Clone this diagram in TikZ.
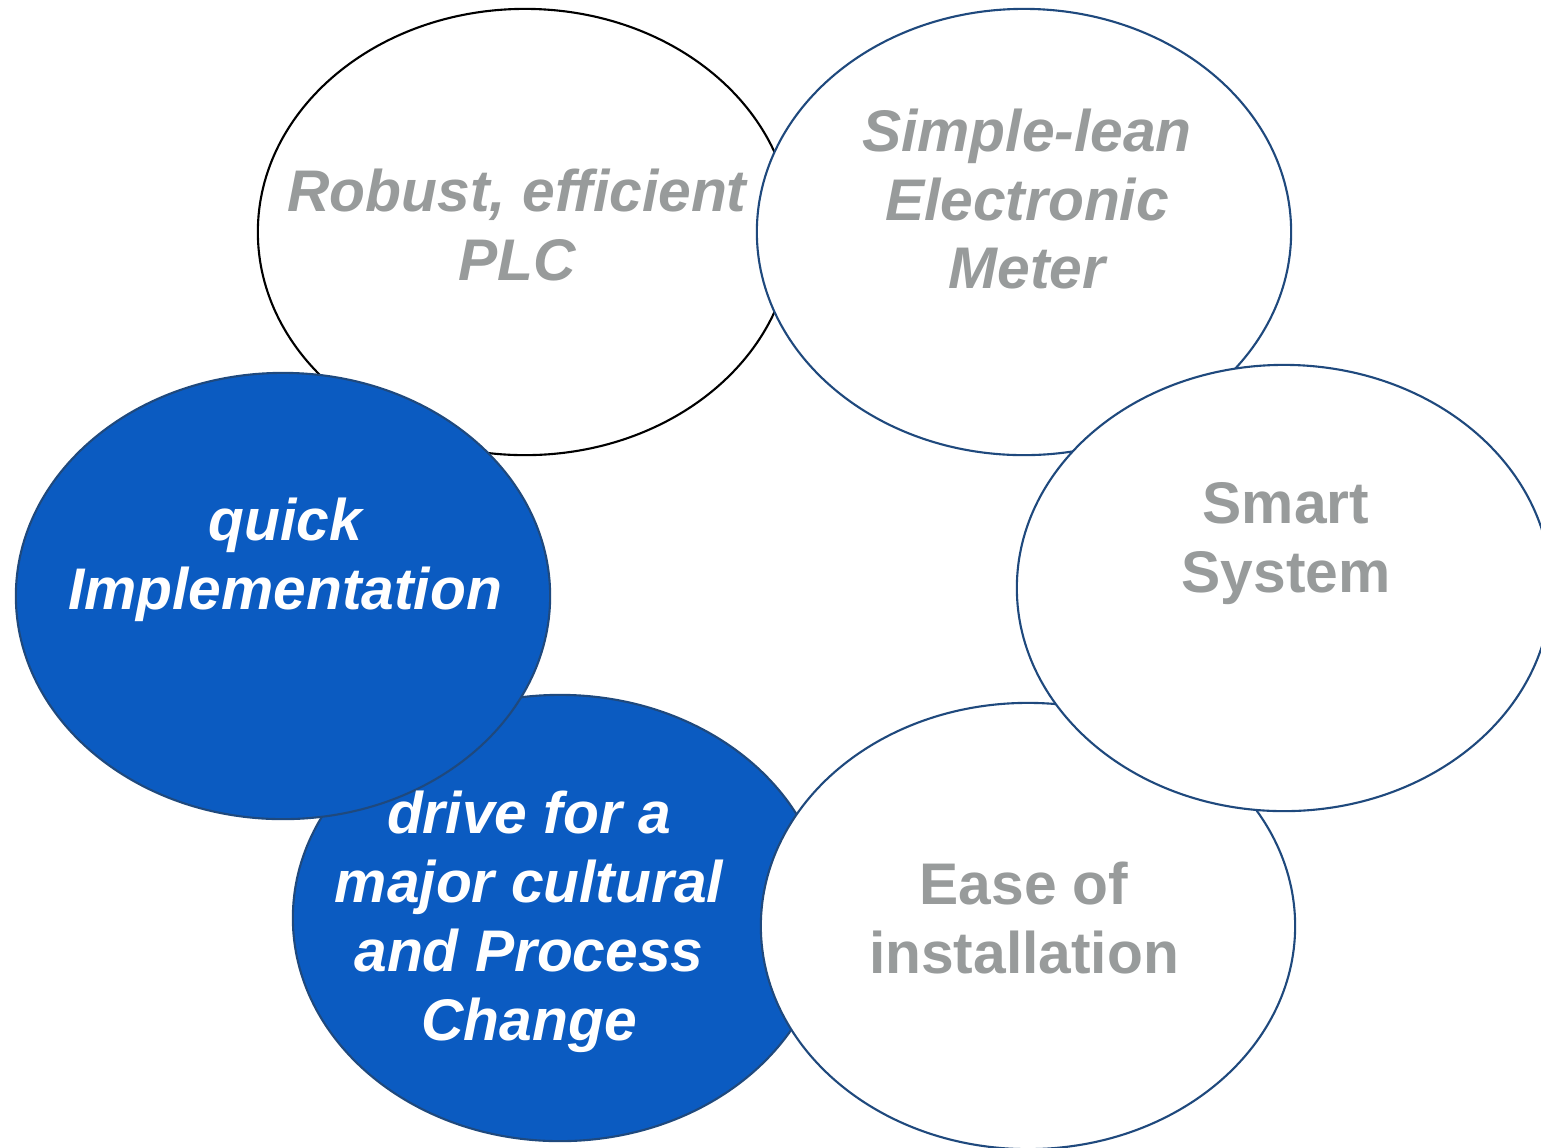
\documentclass[tikz,border=0pt]{standalone}
\usepackage{fontspec}
\setmainfont{Liberation Sans}
\usetikzlibrary{shapes.geometric}
\definecolor{ovalblue}{RGB}{11,91,193}
\definecolor{ovalline}{RGB}{31,73,125}
\definecolor{txtgray}{RGB}{152,155,155}
\tikzset{
	oval/.style={ellipse,draw=ovalline,fill=white,line width=0.6pt,minimum width=5.34cm,minimum height=4.46cm,inner sep=0pt},
	ovalfull/.style={oval,fill=ovalblue},
	lbl/.style={align=center,font=\fontsize{16.7}{19.6}\selectfont\bfseries,text=txtgray,inner sep=0pt},
	lblit/.style={lbl,font=\fontsize{16.7}{19.6}\selectfont\bfseries\itshape},
	lblwhite/.style={lblit,text=white}
}
\begin{document}
\begin{tikzpicture}[x=0.01cm,y=-0.01cm]
	\useasboundingbox (0,0) rectangle (1541,1147);
	% the ovals, back to front
	\node[oval,draw=black] (plc) at (525,232) {};
	\node[oval] (meter) at (1024,232) {};
	\node[ovalfull] (change) at (560,918) {};
	\node[oval] (install) at (1028,926) {};
	\node[oval] (smart) at (1284,588) {};
	\node[ovalfull] (quick) at (283,596) {};
	% the texts
	\node[lblit] (plcText) at (517,225) {Robust, efficient\\PLC};
	\node[lblit] (meterText) at (1027,199) {Simple-lean\\Electronic\\Meter};
	\node[lbl] (smartText) at (1286,544) {Smart\\System};
	\node[lbl] (installText) at (1024,918) {Ease of\\installation};
	\node[lblwhite] (changeText) at (529,922) {drive for a\\major cultural\\and Process\\Change};
	\node[lblwhite] (quickText) at (285,560) {quick\\Implementation};
\end{tikzpicture}
\end{document}
